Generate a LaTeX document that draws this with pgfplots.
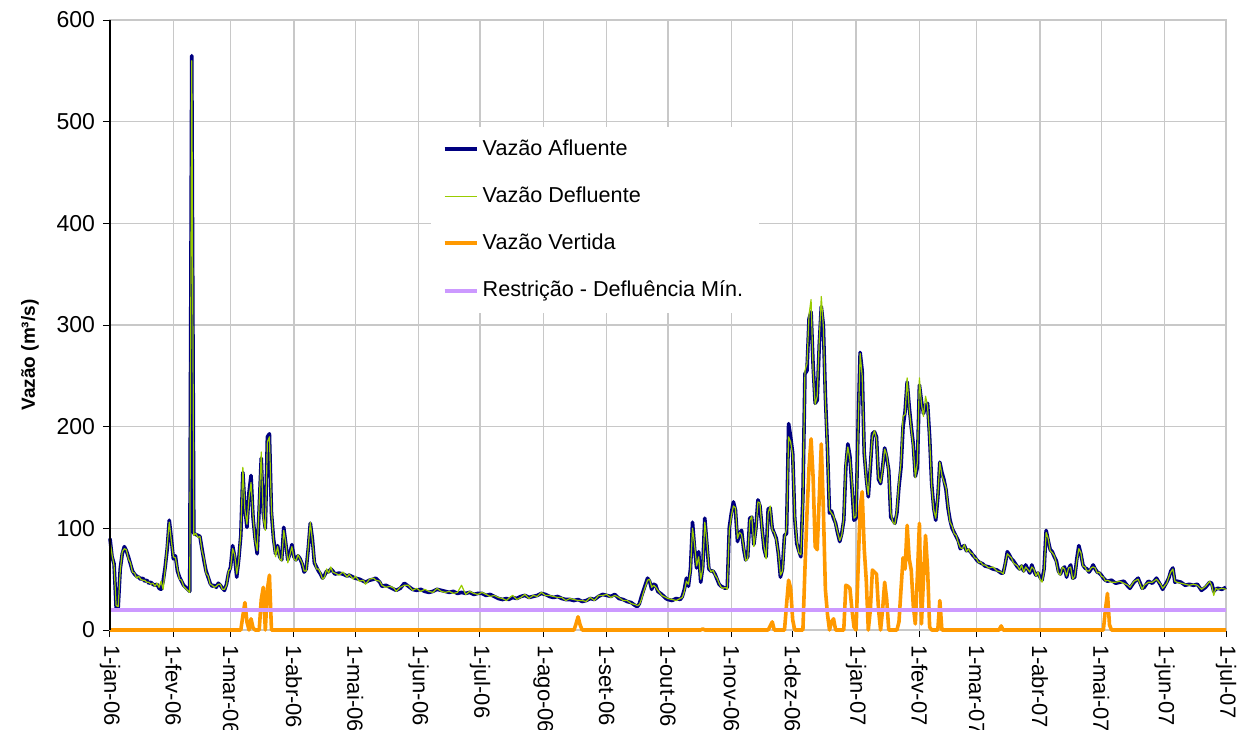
\documentclass[border=0pt]{standalone}
\usepackage{fontspec}
\setmainfont{Liberation Sans}
\usepackage{pgfplots}
\usepackage{pgfplotstable}
\pgfplotsset{compat=1.18}
\definecolor{afl}{HTML}{000080}
\definecolor{defl}{HTML}{99CC00}
\definecolor{vert}{HTML}{FF9900}
\definecolor{restr}{HTML}{CC99FF}
\definecolor{gridc}{HTML}{C8C8C8}

\pgfplotstableread{
d a g
0 90 88
1 72 74
2 65 63
3 22 24
4 22 23
5 60 58
6 75 77
7 82 80
8 78 79
9 72 70
10 65 66
11 58 57
12 55 56
13 53 51
14 52 53
15 50 50
16 51 49
17 48 49
18 49 47
19 46 47
20 47 45
21 45 46
22 44 43
23 45 46
24 41 42
25 40 48
26 48 40
27 62 60
28 80 84
29 108 106
30 90 88
31 70 72
32 73 71
33 58 60
34 52 50
35 48 49
36 44 43
37 42 41
38 40 39
39 38 37
40 565 560
41 95 93
42 94 95
43 93 91
44 92 92
45 80 78
46 68 70
47 58 56
48 52 53
49 46 45
50 43 44
51 44 42
52 42 43
53 46 45
54 44 45
55 41 40
56 39 40
57 45 44
58 56 58
59 62 60
60 83 80
61 72 74
62 52 55
63 70 68
64 93 96
65 155 160
66 120 118
67 101 104
68 135 130
69 152 145
70 110 112
71 90 88
72 75 78
73 120 125
74 169 175
75 115 110
76 100 98
77 190 185
78 193 190
79 115 118
80 90 88
81 75 72
82 83 82
83 72 70
84 69 68
85 101 98
86 85 86
87 69 66
88 75 74
89 84 82
90 72 70
91 69 68
92 73 74
93 70 70
94 65 66
95 57 58
96 60 58
97 80 82
98 105 106
99 90 88
100 66 68
101 62 60
102 58 60
103 55 56
104 51 50
105 54 52
106 58 60
107 57 56
108 60 62
109 58 57
110 55 56
112 56 54
114 55 57
116 53 52
117 54 55
119 52 50
120 51 53
122 50 48
124 48 49
125 47 45
127 49 50
129 50 51
130 51 49
132 47 48
133 43 44
135 44 42
137 42 43
139 40 41
140 39 38
142 41 42
144 46 44
146 43 44
148 40 39
150 39 41
152 40 38
154 38 40
156 37 38
158 38 37
160 40 41
162 39 38
164 38 37
166 37 38
168 38 36
170 36 37
172 37 44
174 36 35
176 37 38
178 35 36
180 36 35
182 36 37
184 34 35
186 35 33
188 33 34
190 31 32
192 30 31
194 31 29
195 30 31
197 32 34
199 31 30
201 33 32
203 34 35
205 32 31
207 33 34
209 34 33
211 36 37
213 35 34
215 33 34
217 32 33
219 33 32
221 31 32
223 30 29
225 30 31
227 29 30
229 30 29
231 28 29
233 29 28
235 31 32
237 30 29
239 33 34
241 35 34
243 34 35
245 33 32
247 35 34
249 31 32
251 30 29
253 28 29
255 27 26
257 24 25
258 23 24
259 26 25
260 33 30
261 39 37
262 45 43
263 51 49
264 48 50
265 40 42
266 45 44
267 44 42
268 38 39
270 35 34
272 31 32
273 30 31
275 29 30
277 31 29
279 30 31
280 33 32
281 40 38
282 51 48
283 43 45
284 60 58
285 106 100
286 80 84
287 61 63
288 77 72
289 47 50
290 62 60
291 110 106
292 85 88
293 60 62
294 58 57
295 58 59
296 55 54
297 50 51
298 45 46
299 43 42
300 42 41
301 41 42
302 42 40
303 101 98
304 115 112
305 126 122
306 118 120
307 87 90
308 95 96
309 98 94
310 80 82
311 69 68
312 72 70
313 110 108
314 111 112
315 84 82
316 100 98
317 128 126
318 122 125
319 100 98
320 80 82
321 72 70
322 119 115
323 120 122
324 100 98
325 95 96
326 90 88
327 75 76
328 52 54
329 60 58
330 93 90
331 95 100
332 203 190
333 190 185
334 174 172
335 110 112
336 85 88
337 78 76
338 72 74
339 131 125
340 252 255
341 255 262
342 306 310
343 313 325
344 260 255
345 223 222
346 226 230
347 280 285
348 318 328
349 300 298
350 230 225
351 180 178
352 115 118
353 117 115
354 110 112
355 105 104
356 95 96
357 87 88
358 95 93
359 108 110
360 160 165
361 183 180
362 171 168
363 140 145
364 108 110
365 110 112
366 200 195
367 273 272
368 255 250
369 174 176
370 150 148
371 131 133
372 160 165
373 193 190
374 195 196
375 190 188
376 148 150
377 144 145
378 160 158
379 179 178
380 170 172
381 157 155
382 111 115
383 108 106
384 105 104
385 115 118
386 141 145
387 160 165
388 200 210
389 215 212
390 244 248
391 220 218
392 200 198
393 183 180
394 151 150
395 160 165
396 241 248
397 225 222
398 213 210
399 220 230
400 223 220
401 190 188
402 144 142
403 120 118
404 108 110
405 130 132
406 165 165
407 155 152
408 148 146
409 138 140
410 120 122
411 108 106
412 100 102
413 96 95
414 92 93
415 88 86
416 80 81
417 82 80
418 83 84
419 78 77
420 79 80
421 77 76
422 74 75
423 72 71
424 69 70
425 67 66
426 66 67
427 65 64
428 63 64
430 62 61
432 60 62
434 59 58
436 56 57
437 56 55
438 65 66
439 77 75
440 74 73
441 70 71
442 68 66
444 62 63
445 60 59
446 63 64
447 58 57
448 64 62
450 56 57
451 64 62
452 58 60
453 54 53
454 56 57
455 52 50
456 49 47
457 60 58
458 98 96
459 88 90
460 79 78
461 77 76
462 72 73
463 68 66
464 58 56
465 55 54
466 60 62
467 62 60
468 52 53
469 60 61
470 64 62
471 51 50
472 52 53
473 70 68
474 83 80
475 75 76
476 64 63
477 61 62
478 60 58
479 57 58
480 60 61
481 64 62
482 60 61
483 57 56
484 56 57
485 54 53
486 51 52
487 49 48
488 48 49
490 49 47
492 46 47
494 47 48
496 48 46
498 43 44
499 41 42
501 47 48
503 51 50
505 41 40
506 42 44
508 48 47
510 46 47
512 51 50
514 44 45
515 40 41
517 47 46
518 51 52
519 58 57
520 61 60
521 47 48
522 48 47
524 47 46
526 44 45
528 45 44
530 44 45
532 45 44
534 39 40
536 42 43
538 47 48
539 46 44
540 38 34
541 40 41
542 41 40
544 40 41
546 42 40
}\flows

\pgfplotstableread{
d v
0 0
64 0
65 14
66 27
67 8
68 0
69 11
70 2
71 0
73 0
74 30
75 42
76 0
77 40
78 54
79 0
227 0
228 6
229 13
230 5
231 0
289 0
290 1
291 0
322 0
323 4
324 8
325 0
330 0
331 25
332 49
333 41
334 10
335 0
339 0
340 60
341 115
342 160
343 188
344 150
345 82
346 79
347 130
348 183
349 120
350 40
351 16
352 0
353 8
354 11
355 0
359 0
360 44
361 43
362 41
363 20
364 3
365 0
366 60
367 120
368 136
369 80
370 49
371 0
372 20
373 59
374 57
375 55
376 20
377 0
378 20
379 47
380 30
381 0
385 0
386 8
387 40
388 71
389 60
390 103
391 70
392 59
393 24
394 6
395 53
396 105
397 6
398 50
399 93
400 60
401 3
402 0
405 0
406 29
407 0
435 0
436 4
437 0
486 0
487 20
488 36
489 5
490 0
546 0
}\vertida

\pgfplotstableread{
d r
0 20
546 20
}\restr

\begin{document}
\fontsize{11.5}{13.8}\selectfont
\begin{tikzpicture}
\begin{axis}[
  name=ax,
  width=558pt, height=305pt, scale only axis,
  xmin=0, xmax=546, ymin=0, ymax=600,
  xtick={0,31,59,90,120,151,181,212,243,273,304,334,365,396,424,455,485,516,546},
  xticklabels={1-jan-06,1-fev-06,1-mar-06,1-abr-06,1-mai-06,1-jun-06,1-jul-06,1-ago-06,1-set-06,1-out-06,1-nov-06,1-dez-06,1-jan-07,1-fev-07,1-mar-07,1-abr-07,1-mai-07,1-jun-07,1-jul-07},
  xticklabel style={rotate=-90, anchor=west, font=\fontsize{11}{13}\selectfont},
  ytick={0,100,200,300,400,500,600},
  yticklabel style={font=\fontsize{11.5}{13.8}\selectfont},
  /pgf/number format/assume math mode=true,
  xtick pos=bottom, ytick pos=left,
  tick align=outside, major tick length=3.5pt,
  tick style={black, line width=0.5pt},
  grid=major, major grid style={gridc, line width=0.6pt},
  axis line style={gridc, line width=0.6pt},
  clip=false,
  legend cell align=left,
  legend style={at={(0.287,0.826)}, anchor=north west, draw=none, fill=white,
    inner xsep=6pt, inner ysep=4.5pt, row sep=10pt,
    font=\fontsize{10.8}{13}\selectfont,
    /tikz/every even column/.append style={column sep=2pt}},
  legend image code/.code={\draw[#1] (0pt,0pt) -- (16pt,0pt);},
  every axis plot/.append style={line join=round},
]
\addplot[afl, line width=1.8pt] table[x=d, y=a] {\flows};
\addlegendentry{Vazão Afluente}
\addplot[defl, line width=0.6pt] table[x=d, y=g] {\flows};
\addlegendentry{Vazão Defluente}
\addplot[vert, line width=1.8pt] table[x=d, y=v] {\vertida};
\addlegendentry{Vazão Vertida}
\addplot[restr, line width=2pt] table[x=d, y=r] {\restr};
\addlegendentry{Restrição - Defluência Mín.}
\end{axis}
\draw[black, line width=0.6pt] (ax.south west) -- (ax.north west);
\node[rotate=90, font=\fontsize{9.5}{11}\selectfont\bfseries] at ([shift={(-40pt,-15pt)}]ax.west) {Vazão (m³/s)};
\pgfresetboundingbox
\path ([shift={(-55pt,-49.5pt)}]ax.south west) rectangle ([shift={(5.5pt,10pt)}]ax.north east);
\end{tikzpicture}
\end{document}
